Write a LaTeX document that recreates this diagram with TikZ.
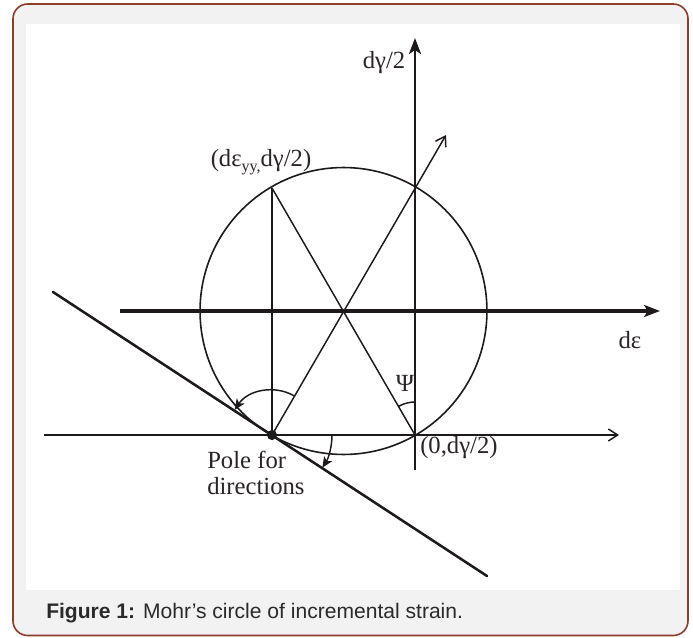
\documentclass[tikz,border=0pt]{standalone}
\usepackage{fontspec}
\setmainfont{Liberation Serif}
\newfontfamily\capfont{Liberation Sans}
\usetikzlibrary{arrows.meta}
\definecolor{ink}{HTML}{1E1A1B}
\definecolor{txt}{HTML}{2A2426}
\definecolor{framec}{RGB}{140,62,42}
\definecolor{panel}{HTML}{F2F2F2}
\definecolor{captxt}{HTML}{2A2A2A}
\begin{document}
\begin{tikzpicture}[x=0.75pt,y=0.75pt,
  thinl/.style={draw=ink,line width=1.1pt},
  thickl/.style={draw=ink,line width=2.0pt},
  lbl/.style={text=txt,inner sep=0pt,font=\fontsize{18.5}{19.5}\selectfont},
  openhead/.style={-{Straight Barb[length=7pt,width=9pt,line width=1.1pt]}},
  fullhead/.style={-{Stealth[length=12pt,width=9pt,inset=3pt]}},
  smallhead/.style={-{Stealth[length=8pt,width=7pt,inset=2pt]}}]
\useasboundingbox (0,0) rectangle (693,637);
% frame
\draw[framec,fill=panel,line width=1.2pt,rounded corners=11pt] (13,1.5) rectangle (688,633);
\fill[white] (26,47) rectangle (680,613);
% key points
\coordinate (O) at (343.5,326);
\coordinate (P) at (272,202);
\coordinate (Q) at (415,202);
\coordinate (T) at (272,449);
\coordinate (R) at (415,449);
\coordinate (A) at (446,502);
\coordinate (vb) at (415,167);
\coordinate (vt) at (415,599);
\coordinate (hl) at (120,326);
\coordinate (hr) at (660,326);
\coordinate (ll) at (44,202);
\coordinate (lr) at (619,202);
\coordinate (tl) at (53,345);
\coordinate (tr) at (487,61);
% circle and construction lines
\draw[thinl,line width=1.2pt] (O) circle (107.6pt);
\draw[thinl] (T) -- (P);
\draw[thinl] (T) -- (Q);
\draw[thinl,openhead] (P) -- (A);
% axes
\draw[thickl,fullhead] (vb) -- (vt);
\draw[thickl,line width=2.5pt,fullhead] (hl) -- (hr);
\draw[thickl,openhead] (ll) -- (lr);
\draw[thickl,line width=1.9pt,line cap=round] (tl) -- (tr);
% angle arcs
\draw[thinl,smallhead] ([shift={(60:33.75pt)}]P) arc (60:146:33.75pt);
\draw[thinl,smallhead] ([shift={(0:45pt)}]P) arc (0:-33:45pt);
\draw[thinl] ([shift={(90:24.75pt)}]Q) arc (90:120:24.75pt);
% pole
\fill[ink] (P) circle (3.8pt);
% labels
\node[lbl] (ldg) at (384,574) {dγ/2};
\node[lbl] (lde) at (630,297) {dε};
\node[lbl,anchor=west] (lq) at (420,189) {(0,dγ/2)};
\node[lbl] (lt) at (261,475) {(dε\raisebox{-0.45ex}{\fontsize{12}{12}\selectfont yy,}dγ/2)};
\node[lbl] (lpsi) at (405,254) {Ψ};
\node[lbl,align=left,anchor=west] (lpole) at (207,164) {Pole for\\directions};
% caption
\node[anchor=west,inner sep=0pt,text=captxt,font=\capfont\fontsize{15.8}{17}\selectfont] (cap) at (46,24) {\textbf{Figure 1:} Mohr’s circle of incremental strain.};
\end{tikzpicture}
\end{document}
